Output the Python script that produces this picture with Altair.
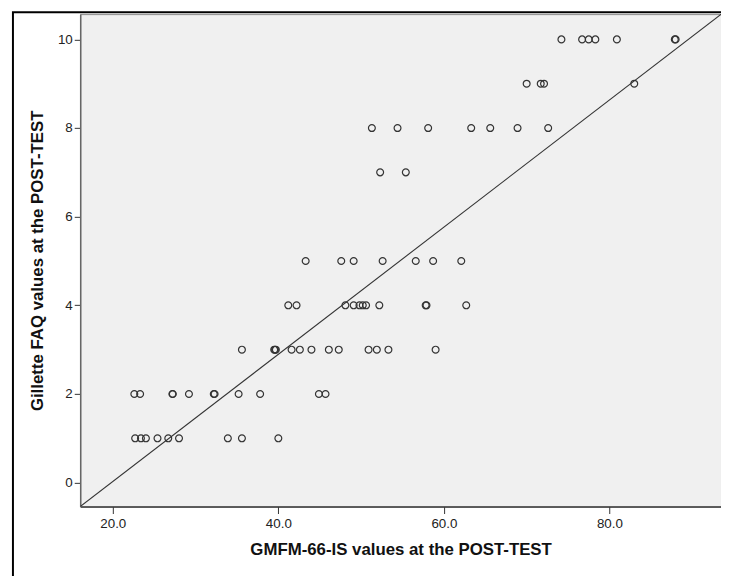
import altair as alt
import pandas as pd

# GMFM-66-IS values (x) grouped by Gillette FAQ level (y)
gmfm_faq10 = [74.2, 76.7, 77.5, 78.3, 80.9, 87.9, 88.0]
gmfm_faq9 = [70.0, 71.7, 72.1, 83.0]
gmfm_faq8 = [51.3, 54.4, 58.1, 63.3, 65.6, 68.9, 72.6]
gmfm_faq7 = [52.3, 55.4]
gmfm_faq5 = [43.3, 47.6, 49.1, 52.6, 56.6, 58.7, 62.1]
gmfm_faq4 = [41.2, 42.2, 48.1, 49.1, 49.8, 50.2, 50.6, 52.2, 57.8, 57.9, 62.7]
gmfm_faq3 = [35.6, 39.5, 39.6, 39.7, 41.6, 42.6, 44.0, 46.1, 47.3, 50.9, 51.9, 53.3, 59.0]
gmfm_faq2 = [22.6, 23.3, 27.2, 27.25, 29.2, 32.2, 32.3, 35.2, 37.8, 44.9, 45.7]
gmfm_faq1 = [22.7, 23.4, 24.0, 25.4, 26.7, 28.0, 33.9, 35.6, 40.0]

groups = {10: gmfm_faq10, 9: gmfm_faq9, 8: gmfm_faq8, 7: gmfm_faq7, 5: gmfm_faq5,
          4: gmfm_faq4, 3: gmfm_faq3, 2: gmfm_faq2, 1: gmfm_faq1}

# reference line
fit_intercept = -2.84
fit_slope = 0.1434

x_domain = [16.06, 93.48]
y_domain = [-0.54, 10.57]
x_ticks = [20, 40, 60, 80]
y_ticks = [0, 2, 4, 6, 8, 10]
x_title = "GMFM-66-IS values at the POST-TEST"
y_title = "Gillette FAQ values at the POST-TEST"

rows = []
for faq, xs in groups.items():
    for g in xs:
        rows.append({"gmfm": g, "faq": faq})
df = pd.DataFrame(rows)

line_df = pd.DataFrame({"gmfm": x_domain})
line_df["faq"] = fit_intercept + fit_slope * line_df["gmfm"]

FONT = "Liberation Sans"

x_enc = alt.X("gmfm:Q", scale=alt.Scale(domain=x_domain, nice=False, zero=False),
              axis=alt.Axis(values=x_ticks, format=".1f", title=x_title,
                            titleX=324, titleY=43, titleBaseline="middle",
                            tickSize=7, labelPadding=3,
                            domainColor="#3a3a3a", domainWidth=1.5))
y_enc = alt.Y("faq:Q", scale=alt.Scale(domain=y_domain, nice=False, zero=False),
              axis=alt.Axis(values=y_ticks, format="d", title=y_title,
                            titleX=-43, titleY=249, titleBaseline="middle",
                            titleAngle=270, tickSize=6, labelPadding=2,
                            domainColor="#666666", domainWidth=1.5))

points = alt.Chart(df).mark_point(
    shape="circle", filled=False, size=48, color="#333333",
    strokeWidth=1.2, opacity=1
).encode(x=x_enc, y=y_enc)

line = alt.Chart(line_df).mark_line(color="#333333", strokeWidth=1.1, clip=True).encode(
    x=alt.X("gmfm:Q"), y=alt.Y("faq:Q")
)

frame = alt.Chart(pd.DataFrame({"k": [0]})).mark_rect(
    filled=False, stroke="black", strokeWidth=2, clip=False
).encode(x=alt.value(-68), x2=alt.value(900), y=alt.value(-2), y2=alt.value(900))

chart = alt.layer(line, points, frame).properties(
    width=648, height=498,
    padding={"left": 73, "top": 3, "right": 0, "bottom": 67},
    autosize=alt.AutoSizeParams(type="none"),
    background="white",
).configure_view(
    fill="#F0F0F0", stroke="#8a8a8a", strokeWidth=1
).configure_axis(
    grid=False, labelFont=FONT, labelFontSize=13.5, labelColor="#222222",
    tickColor="#333333", titleFont=FONT, titleFontSize=17, titleFontWeight="bold",
    titleColor="#111111"
)

chart.save("out.html", embed_options={"renderer": "svg", "actions": False})
